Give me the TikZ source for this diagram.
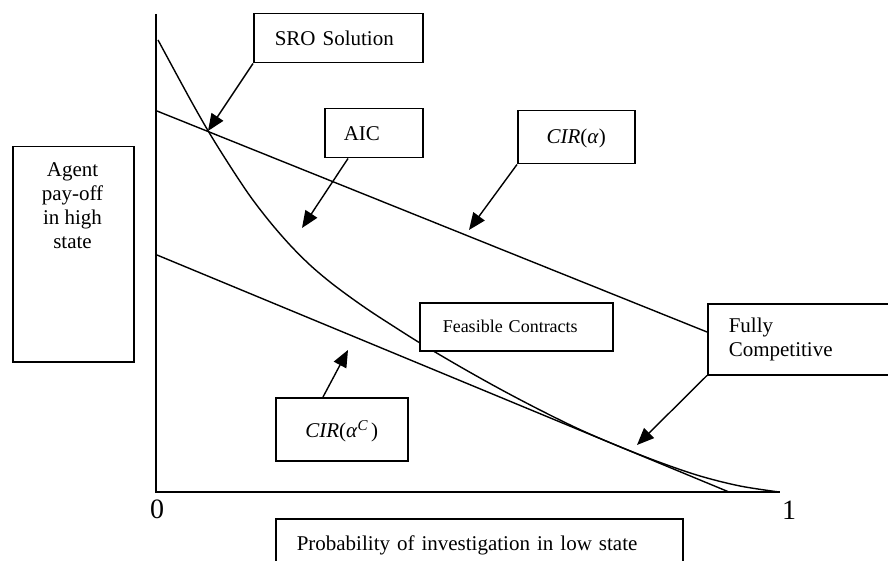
\documentclass[tikz,border=0pt]{standalone}
\usepackage{fontspec}
\setmainfont{Liberation Serif}
\usetikzlibrary{arrows.meta}
\begin{document}
\begin{tikzpicture}[x=1pt,y=-1pt,
  box/.style={draw, line width=1.5pt, fill=white, inner ysep=0pt, font=\fontsize{21}{24}\selectfont},
  ptr/.style={line width=1.4pt, -{Triangle[length=17pt,width=14pt]}},
  crv/.style={line width=1.4pt},
  axis/.style={line width=1.9pt},
  lbl/.style={inner sep=0pt, font=\fontsize{21}{24}\selectfont}]
\useasboundingbox (0,0) rectangle (888,561);
\clip (0,0) rectangle (888,561);
% axes
\coordinate (o) at (156,492);
\coordinate (ytop) at (156,14);
\coordinate (xend) at (780,492);
\draw[axis] (ytop) -- (o) -- (xend);
\node[inner sep=0pt, font=\fontsize{28}{30}\selectfont] (zero) at (157,509) {0};
\node[inner sep=0pt, font=\fontsize{28}{30}\selectfont] (one) at (789,510) {1};
% CIR lines
\coordinate (ua) at (157,111);
\coordinate (ub) at (712,334);
\coordinate (la) at (157,255);
\coordinate (lb) at (729,492);
\draw[crv] (ua) -- (ub);
\draw[crv] (la) -- (lb);
% AIC curve
\draw[crv] plot[smooth, tension=0.55] coordinates {(158,40) (190,99) (210,134) (230,166) (250,196) (270,222) (290,245) (310,265) (330,282) (350,297) (370,311) (390,324) (420,343) (460,366.6) (500,389) (540,410) (580,429.6) (620,446.8) (660,462.4) (700,476) (740,486) (779,492)};
% arrow targets
\coordinate (sroPt) at (208,131);
\coordinate (aicPt) at (302,228);
\coordinate (cirPt) at (469,230);
\coordinate (fullPt) at (637,445);
\coordinate (circPt) at (348,350);
% boxes
\node[box, anchor=north west, minimum width=169pt, minimum height=49pt, inner xsep=21pt, text width=127pt, align=left] (sro) at (253,13) {SRO Solution};
\node[box, anchor=north west, minimum width=98pt, minimum height=49pt, inner xsep=19pt, text width=60pt, align=left] (aic) at (324,108) {AIC};
\node[box, anchor=north west, minimum width=117pt, minimum height=53pt, inner xsep=0pt, align=center, text depth=2pt] (cir) at (517,110) {\textit{CIR}(\textit{α})};
\node[box, anchor=north west, minimum width=121pt, minimum height=215pt] (agent) at (12,146) {};
\node[lbl, anchor=north, align=center] (agenttext) at (72.5,162) {Agent\\pay-off\\in high\\state};
\node[box, anchor=north west, minimum width=193pt, minimum height=48pt, inner xsep=23pt, text width=147pt, align=left, font=\fontsize{18}{20}\selectfont] (feas) at (419,302) {Feasible Contracts};
\node[box, anchor=north west, minimum width=185pt, minimum height=71pt, inner xsep=21pt, text width=143pt, align=left] (full) at (707,303) {Fully\\Competitive};
\node[box, anchor=north west, minimum width=132pt, minimum height=63pt, inner xsep=0pt, align=center, text depth=-6pt] (circ) at (275,397) {\textit{CIR}(\textit{α}\raisebox{7pt}{\fontsize{15}{15}\selectfont\textit{C}}\,)};
\node[box, anchor=north west, minimum width=407pt, minimum height=57pt, inner xsep=21pt, text width=365pt, align=left, text depth=8pt] (prob) at (275,518) {Probability of investigation in low state};
% pointers
\draw[ptr] (sro.south west) -- (sroPt);
\draw[ptr] ([xshift=24pt]aic.south west) -- (aicPt);
\draw[ptr] (cir.south west) -- (cirPt);
\draw[ptr] (full.south west) -- (fullPt);
\draw[ptr] ([xshift=48pt]circ.north west) -- (circPt);
\end{tikzpicture}
\end{document}
